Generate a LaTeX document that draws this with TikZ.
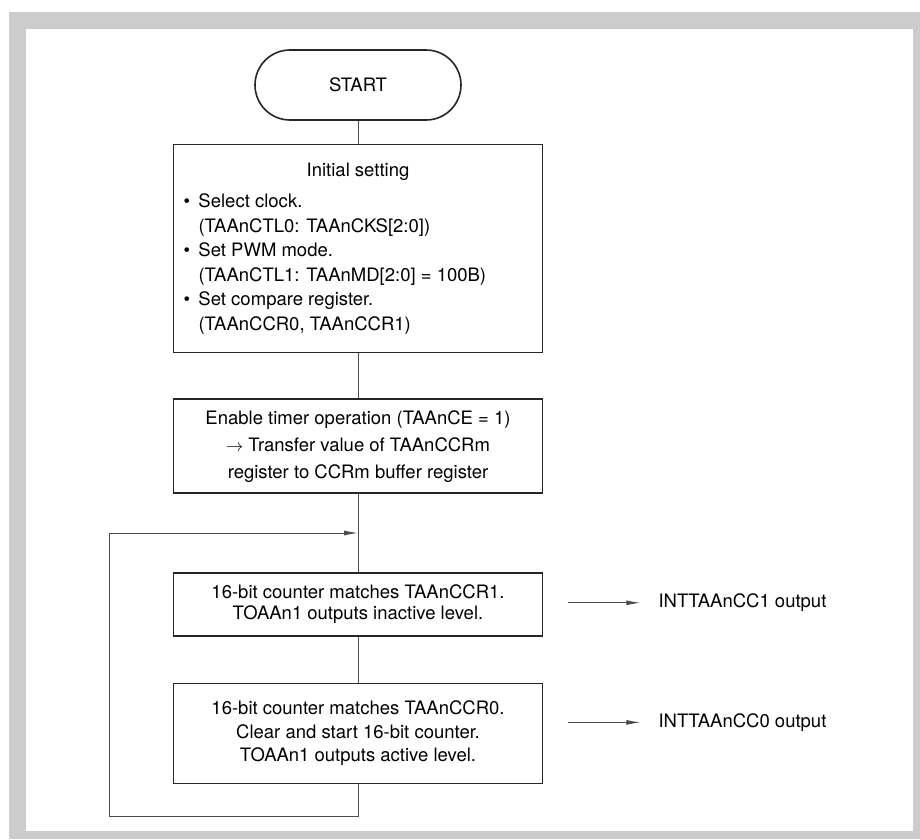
\documentclass[tikz,border=0pt]{standalone}
\usepackage{fontspec}
\setmainfont{TeX Gyre Heros}
\usetikzlibrary{positioning, arrows.meta, calc}

\begin{document}
\begin{tikzpicture}[
    x=1pt, y=1pt,
    font=\fontsize{18.5}{24.5}\selectfont,
    term/.style={
        draw=black!85, line width=1.6pt,
        rounded corners=35pt,
        minimum width=206pt,
        minimum height=70pt
    },
    proc/.style={
        draw=black!85, line width=1.6pt,
        align=center,
        inner sep=0pt,
        minimum width=369pt
    },
    line/.style={draw=black!70, line width=0.9pt},
    arrow/.style={line, -{Latex[length=14pt,width=5pt]}},
    note/.style={anchor=west, inner sep=0pt}
]

% ===================== FRAME =====================
\useasboundingbox (0,0) rectangle (920,-839);
\fill[black!20] (9,-12) rectangle (920,-839);
\fill[white] (26,-29) rectangle (913,-831);

% ===================== MAIN COLUMN =====================
\node[term] (start) at (358,-85) {START};

\node[proc, below=23pt of start, minimum height=208pt] (init) {%
  \begin{minipage}{349pt}
    \centering Initial setting\par\vspace{6.5pt}
    \raggedright
    \makebox[15pt][l]{\textbullet}Select clock.\\
    \hspace*{15pt}(TAAnCTL0: TAAnCKS[2:0])\\
    \makebox[15pt][l]{\textbullet}Set PWM mode.\\
    \hspace*{15pt}(TAAnCTL1: TAAnMD[2:0] = 100B)\\
    \makebox[15pt][l]{\textbullet}Set compare register.\\
    \hspace*{15pt}(TAAnCCR0, TAAnCCR1)
  \end{minipage}};

\node[proc, below=45pt of init, minimum height=94pt,
      font=\fontsize{18.5}{27}\selectfont] (enable)
{Enable timer operation (TAAnCE = 1)\\
 $\rightarrow$ Transfer value of TAAnCCRm\\
 register to CCRm buffer register};

\node[proc, below=78pt of enable, minimum height=63pt,
      font=\fontsize{18.5}{21}\selectfont] (ccr1)
{16-bit counter matches TAAnCCR1.\\
 TOAAn1 outputs inactive level.};

\node[proc, below=46pt of ccr1, minimum height=100pt,
      font=\fontsize{18.5}{23.5}\selectfont] (ccr0)
{16-bit counter matches TAAnCCR0.\\
 Clear and start 16-bit counter.\\
 TOAAn1 outputs active level.};

% ===================== OUTPUTS =====================
\node[note] (int1) at ($(ccr1.east)+(115,1.5)$) {INTTAAnCC1 output};
\node[note] (int0) at ($(ccr0.east)+(115,11)$) {INTTAAnCC0 output};

\coordinate (o1) at ($(ccr1.east)+(25,1.5)$);
\coordinate (o0) at ($(ccr0.east)+(25,11)$);

% loop join point and left rail
\coordinate (join) at ($(enable.south)+(0,-39)$);
\coordinate (rail) at ($(join)+(-249,0)$);

% ===================== FLOW =====================
\draw[line] (start) -- (init);
\draw[line] (init) -- (enable);
\draw[line] (enable) -- (ccr1);
\draw[line] (ccr1) -- (ccr0);

\draw[arrow] (ccr0.south) -- ++(0,-32) -| (rail) -- (join);

\draw[arrow, shorten >=18pt] (o1) -- (int1.west);
\draw[arrow, shorten >=18pt] (o0) -- (int0.west);

\end{tikzpicture}
\end{document}
